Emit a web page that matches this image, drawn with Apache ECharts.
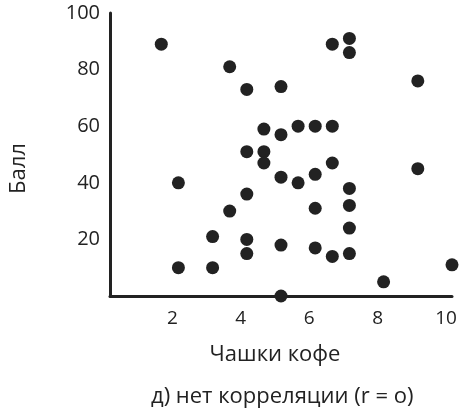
<!DOCTYPE html>
<html>
<head>
<meta charset="utf-8">
<script src="https://cdn.jsdelivr.net/npm/echarts@6/dist/echarts.min.js"></script>
<style>
  html, body { margin: 0; padding: 0; background: #fff; }
  #chart { width: 470px; height: 415px; }
</style>
</head>
<body>
<div id="chart"></div>
<script>
// чашки кофе (x) и балл (y) для каждой точки
const cups = [1.5, 3.5, 2, 3.5, 3, 2, 3, 6.5, 7, 7, 4, 5, 9, 4.5, 5, 5.5, 6, 6.5, 4, 4.5,
  4.5, 6.5, 9, 5, 5.5, 6, 7, 4, 6, 7, 7, 4, 4, 5, 6, 6.5, 7, 10, 8, 5];
const scores = [89, 81, 40, 30, 21, 10, 10, 89, 91, 86, 73, 74, 76, 59, 57, 60, 60, 60, 51, 51,
  47, 47, 45, 42, 40, 43, 38, 36, 31, 32, 24, 20, 15, 18, 17, 14, 15, 11, 5, 0];
const xTicks = [2, 4, 6, 8, 10];
const yTicks = [20, 40, 60, 80, 100];

const ink = '#222';
const font = '"Open Sans", sans-serif';

const points = cups.map((c, i) => [c, scores[i]]);

const chart = echarts.init(document.getElementById('chart'));

const option = {
  animation: false,
  title: {
    text: 'д) нет корреляции (r = o)',
    left: 146,
    bottom: 2,
    textStyle: { color: ink, fontFamily: font, fontSize: 22, fontWeight: 'normal' },
  },
  grid: { left: 108, right: 18, top: 13, bottom: 119 },
  xAxis: {
    type: 'value',
    min: 0,
    max: 10,
    interval: 2,
    name: 'Чашки кофе',
    nameLocation: 'middle',
    nameGap: 48,
    nameTextStyle: { color: ink, fontFamily: font, fontSize: 22, padding: [0, 12, 0, 0] },
    axisLine: { lineStyle: { color: ink, width: 3 } },
    axisTick: { show: false },
    splitLine: { show: false },
    axisLabel: {
      color: ink,
      fontFamily: font,
      fontSize: 19,
      margin: 13,
      padding: [0, 12, 0, 0],
      formatter: v => (xTicks.includes(v) ? String(v) : ''),
    },
  },
  yAxis: {
    type: 'value',
    min: 0,
    max: 100,
    interval: 20,
    name: 'Балл',
    nameLocation: 'middle',
    nameGap: 80,
    nameTextStyle: { color: ink, fontFamily: font, fontSize: 22, padding: [0, 28, 0, 0] },
    axisLine: { show: true, lineStyle: { color: ink, width: 3 } },
    axisTick: { show: false },
    splitLine: { show: false },
    axisLabel: {
      color: ink,
      fontFamily: font,
      fontSize: 20,
      margin: 10,
      formatter: v => (yTicks.includes(v) ? String(v) : ''),
    },
  },
  series: [
    {
      type: 'scatter',
      data: points,
      symbolSize: 13,
      itemStyle: { color: ink, opacity: 1 },
      z: 5,
    },
  ],
};

chart.setOption(option);
</script>
</body>
</html>
